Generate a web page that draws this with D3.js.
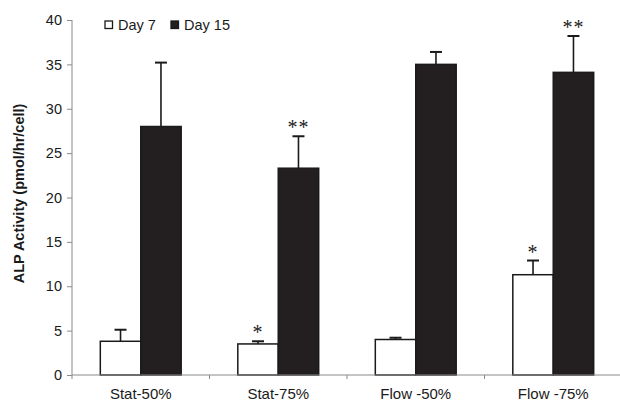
<!DOCTYPE html>
<html>
<head>
<meta charset="utf-8">
<script src="https://cdn.jsdelivr.net/npm/d3@7"></script>
<style>
  html, body { margin: 0; padding: 0; background: #fff; }
  svg { display: block; }
  text { font-family: "Liberation Sans", Arial, sans-serif; fill: #1a1a1a; }
</style>
</head>
<body>
<svg id="chart" width="620" height="402"></svg>
<script>
// ALP activity by culture condition, day 7 vs day 15
const categories = ["Stat-50%", "Stat-75%", "Flow -50%", "Flow -75%"];
const seriesNames = ["Day 7", "Day 15"];
const day7 = [3.8, 3.5, 4.0, 11.3];
const day7Err = [1.3, 0.3, 0.2, 1.6];
const day15 = [28.0, 23.3, 35.0, 34.1];
const day15Err = [7.2, 3.6, 1.4, 4.1];
const day7Sig = ["", "*", "", "*"];
const day15Sig = ["", "**", "", "**"];
const yTicks = [0, 5, 10, 15, 20, 25, 30, 35, 40];

const svg = d3.select("#chart");
const margin = { left: 72, right: -2, top: 20, bottom: 27 };
const W = 620, H = 402;

const x = d3.scaleBand()
  .domain(categories)
  .range([margin.left, W - margin.right])
  .paddingInner(0)
  .paddingOuter(0);

const xs = d3.scaleBand()
  .domain(seriesNames)
  .range([0, x.bandwidth()])
  .paddingInner(0)
  .paddingOuter(0.7);

const y = d3.scaleLinear()
  .domain([0, 40])
  .range([H - margin.bottom, margin.top]);

const rows = [];
categories.forEach((c, i) => {
  rows.push({ cat: c, s: "Day 7", v: day7[i], e: day7Err[i], sig: day7Sig[i] });
  rows.push({ cat: c, s: "Day 15", v: day15[i], e: day15Err[i], sig: day15Sig[i] });
});

// error bars (drawn first so bars sit on top of their lower part)
const eb = svg.append("g").attr("stroke", "#1a1a1a").attr("stroke-width", 1.6);
rows.forEach(d => {
  const cx = x(d.cat) + xs(d.s) + xs.bandwidth() / 2;
  eb.append("line").attr("x1", cx).attr("x2", cx).attr("y1", y(d.v)).attr("y2", y(d.v + d.e));
  eb.append("line").attr("x1", cx - 6).attr("x2", cx + 6).attr("y1", y(d.v + d.e)).attr("y2", y(d.v + d.e)).attr("stroke-width", 2);
});

// bars
svg.append("g").selectAll("rect").data(rows).join("rect")
  .attr("x", d => x(d.cat) + xs(d.s))
  .attr("y", d => y(d.v))
  .attr("width", xs.bandwidth())
  .attr("height", d => y(0) - y(d.v))
  .attr("fill", d => d.s === "Day 7" ? "#ffffff" : "#231f20")
  .attr("stroke", "#1a1a1a")
  .attr("stroke-width", 1.5);

// significance marks
svg.append("g").selectAll("text").data(rows.filter(d => d.sig)).join("text")
  .attr("x", d => x(d.cat) + xs(d.s) + xs.bandwidth() / 2)
  .attr("y", d => y(d.v + d.e) - 2)
  .attr("text-anchor", "middle")
  .style("font-family", "'Liberation Serif', 'DejaVu Serif', serif")
  .style("font-size", "20px")
  .style("letter-spacing", "1px")
  .text(d => d.sig);

// y axis
const yAxis = svg.append("g")
  .attr("transform", `translate(${margin.left},0)`)
  .call(d3.axisLeft(y).tickValues(yTicks).tickSize(5).tickPadding(5));
yAxis.select(".domain").attr("stroke", "#8a8a8a").attr("d", `M0,${y(40)}V${y(0)}`);
yAxis.selectAll(".tick line").attr("stroke", "#8a8a8a");
yAxis.selectAll(".tick text").style("font-size", "14.5px").attr("fill", "#1a1a1a");

// x axis
const xAxis = svg.append("g")
  .attr("transform", `translate(0,${y(0)})`)
  .call(d3.axisBottom(x).tickSize(0).tickPadding(13));
xAxis.select(".domain").attr("stroke", "#8a8a8a").attr("d", `M${margin.left},0H${W}`);
xAxis.selectAll(".tick text").style("font-size", "15px").attr("fill", "#1a1a1a");
xAxis.selectAll(".boundary").data(categories).join("line")
  .attr("class", "boundary")
  .attr("x1", d => x(d)).attr("x2", d => x(d))
  .attr("y1", 0).attr("y2", 4)
  .attr("stroke", "#8a8a8a");

// y axis title
svg.append("text")
  .attr("transform", `translate(24,${(y(0) + y(40)) / 2 - 4}) rotate(-90)`)
  .attr("text-anchor", "middle")
  .style("font-size", "14.5px")
  .style("font-weight", "bold")
  .text("ALP Activity (pmol/hr/cell)");

// legend
const legend = svg.append("g");
const legendItems = [
  { name: seriesNames[0], fill: "#ffffff", x: 105 },
  { name: seriesNames[1], fill: "#231f20", x: 171 }
];
legendItems.forEach(it => {
  legend.append("rect").attr("x", it.x).attr("y", 21).attr("width", 7.5).attr("height", 7.5)
    .attr("fill", it.fill).attr("stroke", "#1a1a1a").attr("stroke-width", 1.3);
  legend.append("text").attr("x", it.x + 13).attr("y", 30).style("font-size", "14.5px").text(it.name);
});
</script>
</body>
</html>
